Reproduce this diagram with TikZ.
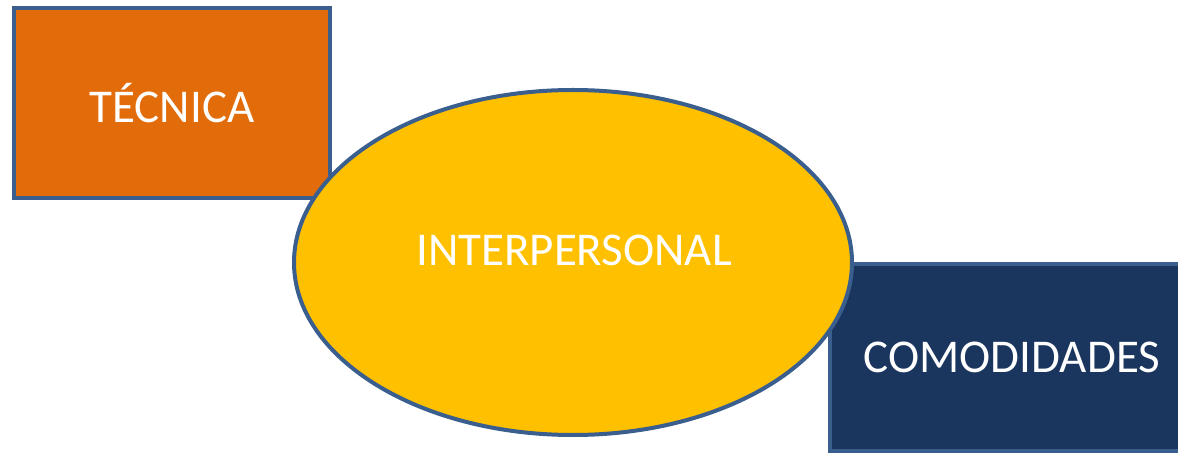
\documentclass[tikz,border=0pt]{standalone}
\usepackage{fontspec}
\setmainfont{Carlito}
\usepackage{xcolor}
\usepackage{tikz}
\usetikzlibrary{shapes.geometric}
\definecolor{outline}{HTML}{3A5F8E}
\definecolor{tecorange}{HTML}{E36C0A}
\definecolor{interyellow}{HTML}{FFC000}
\definecolor{comnavy}{HTML}{1A365E}
\tikzset{
  area/.style   = {rectangle, draw=outline, line width=4pt, inner sep=0pt,
                   text=white, font=\fontsize{47}{56}\selectfont},
  core/.style   = {ellipse, draw=outline, line width=4pt, fill=interyellow, inner sep=0pt,
                   minimum width=558pt, minimum height=345pt},
  areatext/.style = {text=white, font=\fontsize{47}{56}\selectfont},
}

\begin{document}
\begin{tikzpicture}[x=1pt, y=-1pt]

    %% page frame
    \useasboundingbox (0,0) rectangle (1178,454);
    \clip (0,0) rectangle (1178,454);

    %% boxes
    \node[area, fill=tecorange, minimum width=316pt, minimum height=190pt] (tecnica)
         at (172,103) {TÉCNICA};
    \node[area, fill=comnavy, minimum width=420pt, minimum height=187pt] (comodidades)
         at (1040,357.5) {};
    \node[areatext] (comlabel) at (1012,357.5) {COMODIDADES};

    %% centre
    \node[core] (interpersonal) at (573,262.5) {};
    \node[areatext] (interlabel) at (574,250) {INTERPERSONAL};

\end{tikzpicture}
\end{document}
